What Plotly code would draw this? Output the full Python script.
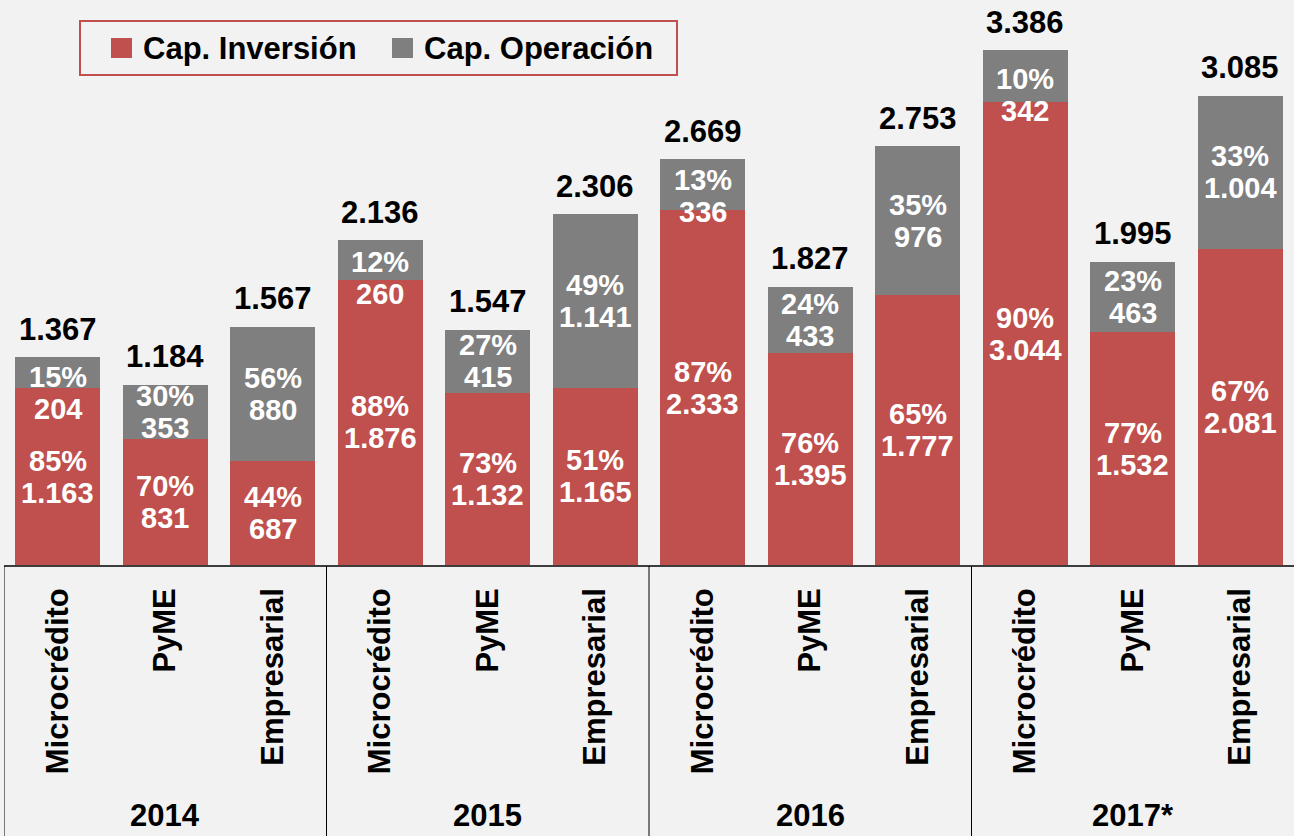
import plotly.graph_objects as go

years = ["2014", "2015", "2016", "2017*"]
segments = ["Microcrédito", "PyME", "Empresarial"]
categories = [s for y in years for s in segments]

cap_inversion = [1163, 831, 687, 1876, 1132, 1165, 2333, 1395, 1777, 3044, 1532, 2081]
cap_operacion = [204, 353, 880, 260, 415, 1141, 336, 433, 976, 342, 463, 1004]
pct_inversion = [85, 70, 44, 88, 73, 51, 87, 76, 65, 90, 77, 67]
pct_operacion = [15, 30, 56, 12, 27, 49, 13, 24, 35, 10, 23, 33]
totals = [1367, 1184, 1567, 2136, 1547, 2306, 2669, 1827, 2753, 3386, 1995, 3085]
series_names = ["Cap. Inversión", "Cap. Operación"]

# styling: vertical pixel shift of the grey-segment labels (small segments)
op_label_shift = [-20, 0, 0, -18, 0, 0, -11, 0, 0, -19, 0, 0]

RED = "#C0504D"
GREY = "#7F7F7F"
BG = "#F2F2F2"
FONT = "Liberation Sans, Arial, sans-serif"

W, H = 1294, 836
ML, MR, MT, MB = 4, 0, 0, 271
PW, PH = W - ML - MR, H - MT - MB


def px(xp):
    return (xp - ML) / PW


def py(yp):
    return 1 - (yp - MT) / PH


def fmt(v):
    return f"{v:,}".replace(",", ".")


x = list(range(len(categories)))

fig = go.Figure()
fig.add_trace(go.Bar(x=x, y=cap_inversion, name=series_names[0],
                     marker=dict(color=RED, line=dict(width=0))))
fig.add_trace(go.Bar(x=x, y=cap_operacion, name=series_names[1],
                     marker=dict(color=GREY, line=dict(width=0))))

ann = []
lbl_font = dict(family=FONT, size=29, color="white")
for i in x:
    yc = cap_inversion[i] / 2
    ann.append(dict(x=i, y=yc, text=f"<b>{pct_inversion[i]}%</b>", showarrow=False,
                    yshift=16, font=lbl_font, xref="x", yref="y"))
    ann.append(dict(x=i, y=yc, text=f"<b>{fmt(cap_inversion[i])}</b>", showarrow=False,
                    yshift=-16, font=lbl_font, xref="x", yref="y"))
    yo = cap_inversion[i] + cap_operacion[i] / 2
    ann.append(dict(x=i, y=yo, text=f"<b>{pct_operacion[i]}%</b>", showarrow=False,
                    yshift=16 + op_label_shift[i], font=lbl_font, xref="x", yref="y"))
    ann.append(dict(x=i, y=yo, text=f"<b>{fmt(cap_operacion[i])}</b>", showarrow=False,
                    yshift=-16 + op_label_shift[i], font=lbl_font, xref="x", yref="y"))
    ann.append(dict(x=i, y=cap_inversion[i] + cap_operacion[i], text=f"<b>{fmt(totals[i])}</b>",
                    showarrow=False, yshift=28,
                    font=dict(family=FONT, size=31, color="black"), xref="x", yref="y"))

# year labels
for k, yr in enumerate(years):
    ann.append(dict(x=k * 3 + 1, y=py(815), text=f"<b>{yr}</b>", showarrow=False,
                    xref="x", yref="paper", yanchor="middle",
                    font=dict(family=FONT, size=31, color="black")))

# legend (drawn manually to match the boxed legend)
shapes = [
    dict(type="rect", xref="paper", yref="paper", x0=px(80), x1=px(677), y0=py(21), y1=py(75),
         line=dict(color=RED, width=2), fillcolor=BG, layer="above"),
    dict(type="rect", xref="paper", yref="paper", x0=px(111), x1=px(132), y0=py(38), y1=py(58),
         line=dict(width=0), fillcolor=RED, layer="above"),
    dict(type="rect", xref="paper", yref="paper", x0=px(392), x1=px(413), y0=py(38), y1=py(58),
         line=dict(width=0), fillcolor=GREY, layer="above"),
]
ann.append(dict(x=px(141), y=py(48), xref="paper", yref="paper", xanchor="left", yanchor="middle",
                text=f"<b>{series_names[0]}</b>", showarrow=False,
                font=dict(family=FONT, size=31, color="black")))
ann.append(dict(x=px(422), y=py(48), xref="paper", yref="paper", xanchor="left", yanchor="middle",
                text=f"<b>{series_names[1]}</b>", showarrow=False,
                font=dict(family=FONT, size=31, color="black")))

# category table lines
shapes.append(dict(type="line", xref="paper", yref="paper", x0=0, x1=1, y0=py(566), y1=py(566),
                   line=dict(color="black", width=1.5)))
for b in [-0.5, 2.5, 5.5, 8.5]:
    shapes.append(dict(type="line", xref="x", yref="paper", x0=b, x1=b, y0=py(566), y1=py(840),
                       line=dict(color="black", width=1)))

fig.update_layout(
    width=W, height=H,
    margin=dict(l=ML, r=MR, t=MT, b=MB),
    paper_bgcolor=BG, plot_bgcolor=BG,
    barmode="stack", bargap=0.21,
    showlegend=False,
    xaxis=dict(tickmode="array", tickvals=x,
               ticktext=[f"<b>{c}</b>" for c in categories],
               tickangle=-90, range=[-0.5, 11.5], showgrid=False, zeroline=False,
               showline=False, ticks="", ticklabelstandoff=16,
               tickfont=dict(family=FONT, size=31, color="black")),
    yaxis=dict(range=[0, 3715], visible=False, showgrid=False, zeroline=False),
    annotations=ann,
    shapes=shapes,
    font=dict(family=FONT),
)

fig.write_html("out.html", config={"displayModeBar": False},
               post_script="document.body.style.margin='0';")
